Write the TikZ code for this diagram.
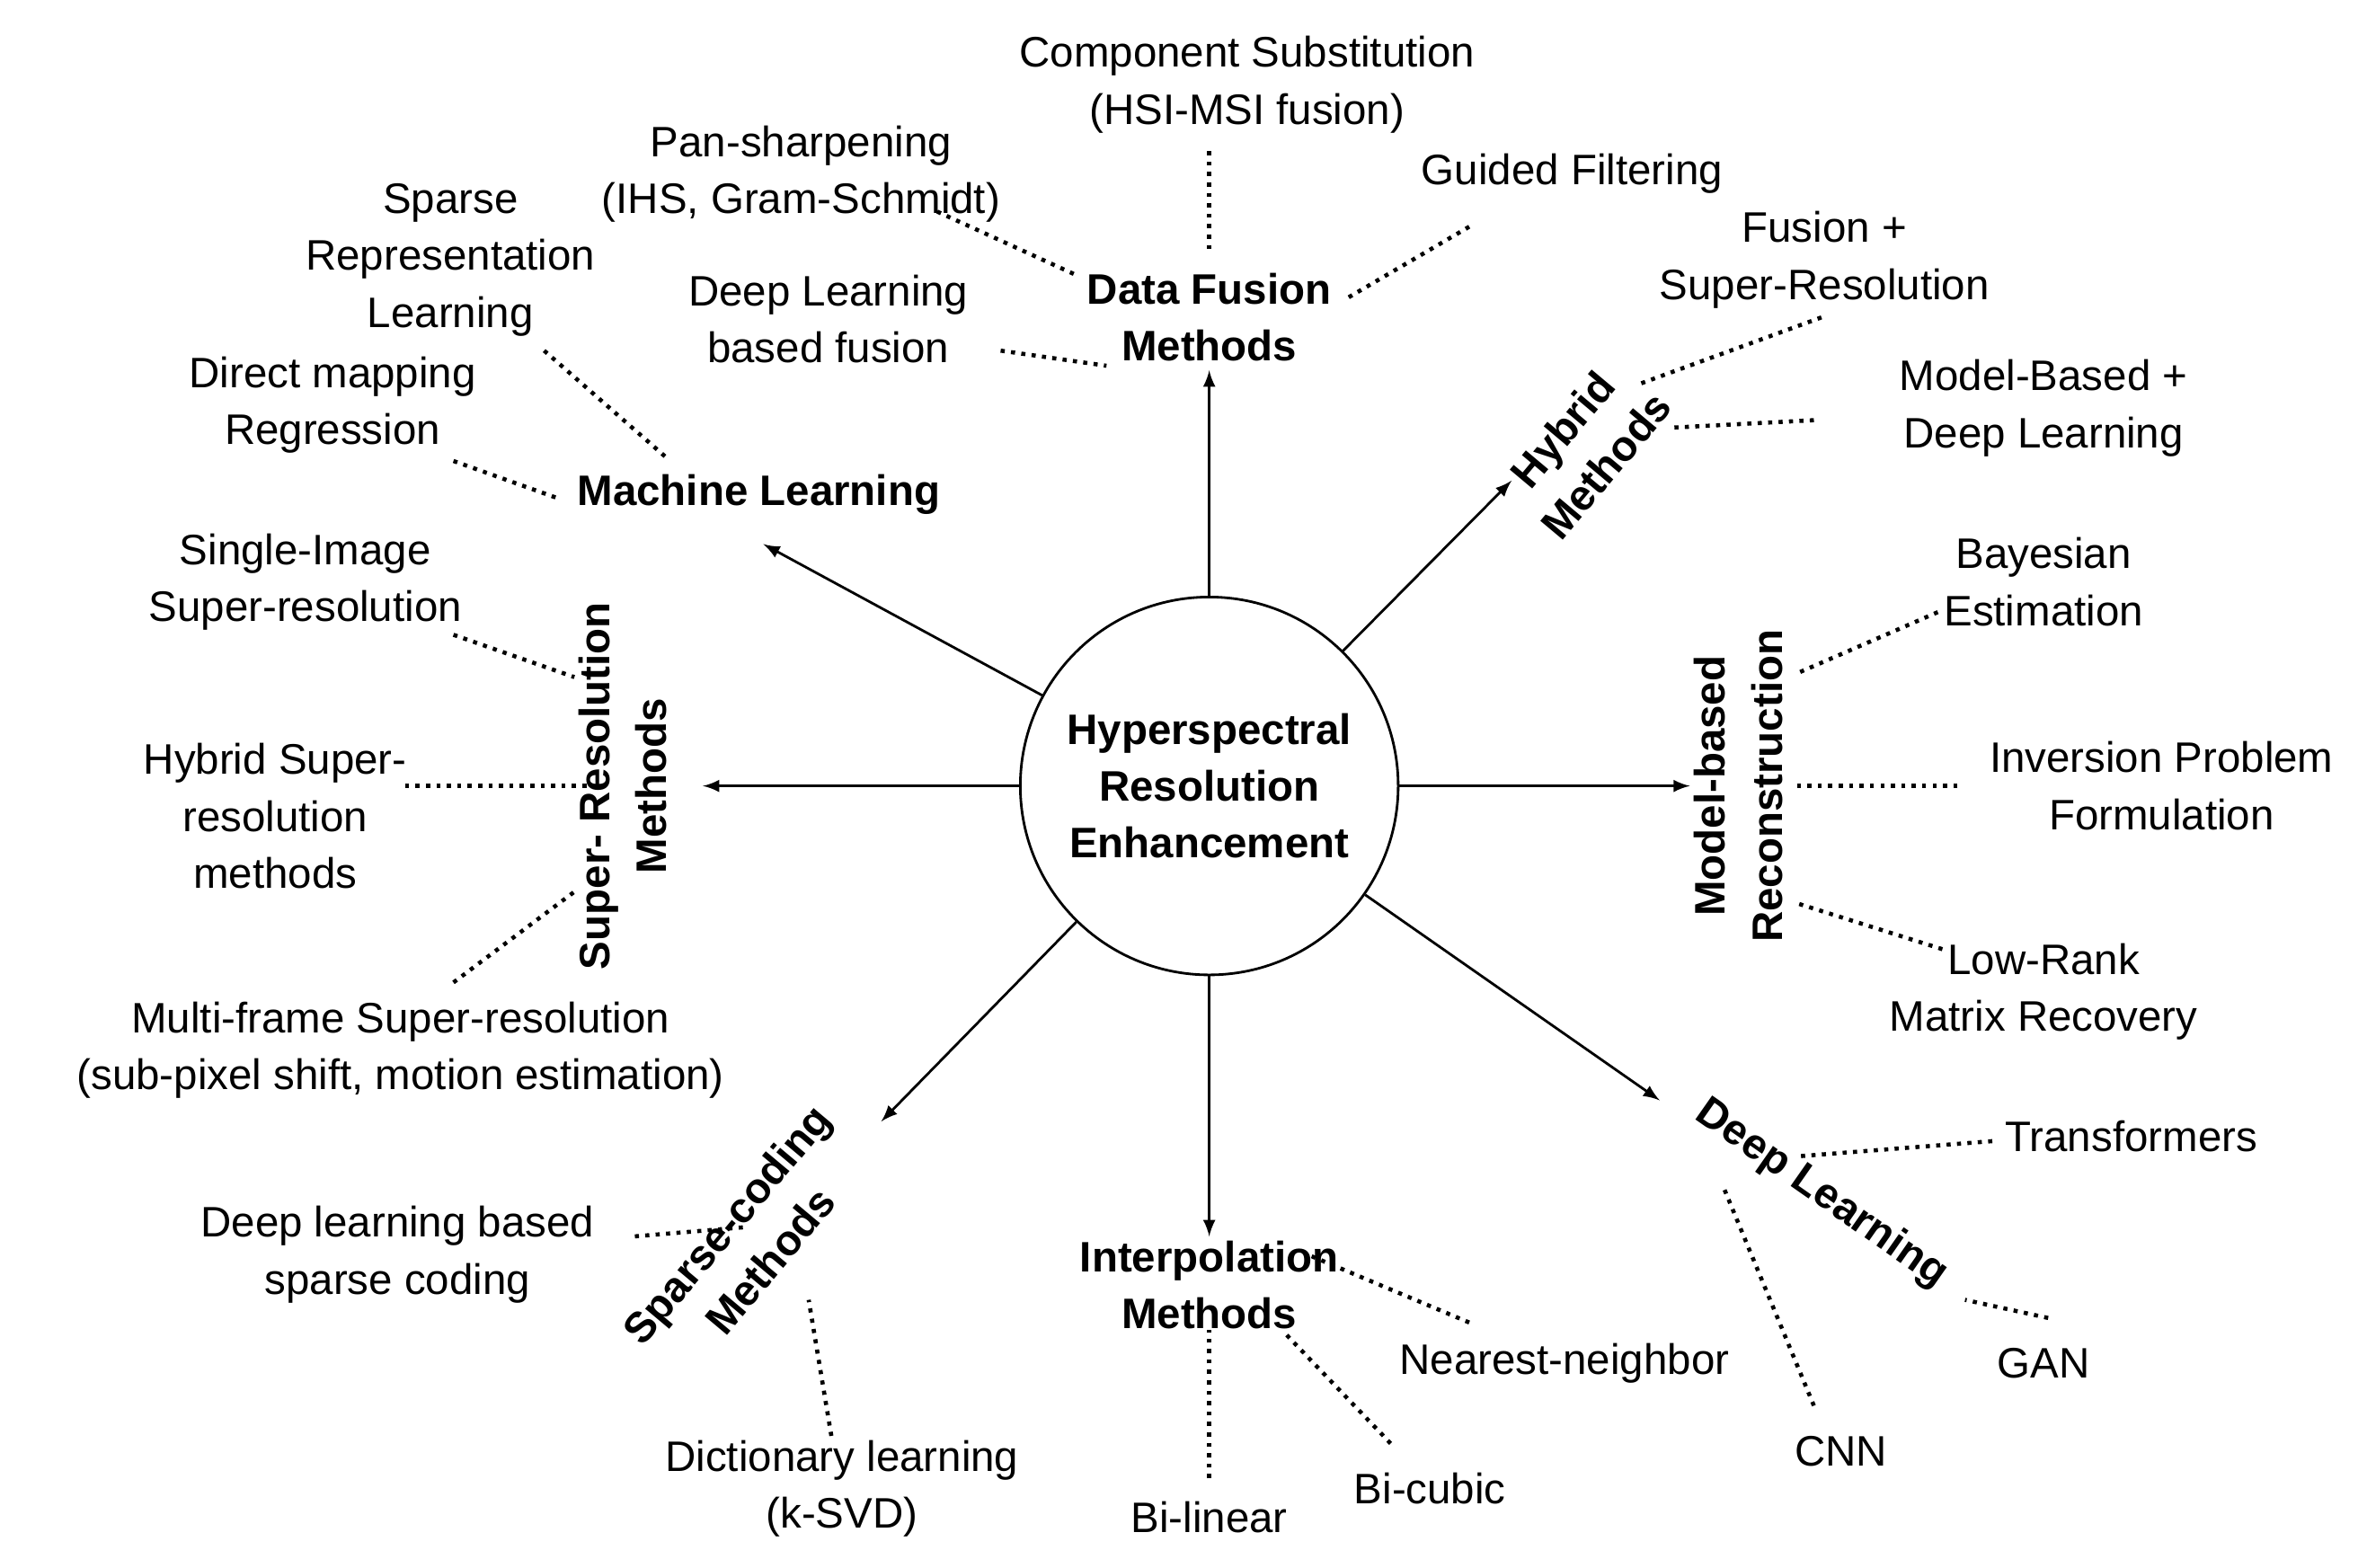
\documentclass[tikz,border=0pt]{standalone}
\usepackage{fontspec}
\setmainfont{Liberation Sans}
\begin{document}
\begin{tikzpicture}[x=0.01682cm,y=-0.01682cm,
  every node/.style={font=\fontsize{13.5}{18}\selectfont,align=center,inner sep=1pt},
  cat/.style={font=\fontsize{13.5}{18}\selectfont\bfseries,align=center,inner sep=1pt},
  arr/.style={-latex,line width=0.8pt},
  dots/.style={dotted,line width=1.3pt}]
\useasboundingbox (0,0) rectangle (1560,1037.4);
\node[circle,draw,line width=0.8pt,minimum size=250*0.01682cm,font=\fontsize{13.5}{18}\selectfont\bfseries] (c) at (800,520) {Hyperspectral\\Resolution\\Enhancement};
% arrow ends
\coordinate (aDF) at (800,245); \coordinate (aML) at (505,360);
\coordinate (aHy) at (1000,318); \coordinate (aMB) at (1118,520);
\coordinate (aDL) at (1098,728); \coordinate (aIn) at (800,818);
\coordinate (aSC) at (583,742); \coordinate (aSR) at (465,520);
\foreach \t in {aDF,aML,aHy,aMB,aDL,aIn,aSC,aSR} \draw[arr] (c) -- (\t);
% dotted connectors
\draw[dots] (800,100) -- (800,165);
\draw[dots] (620,140) -- (712,182);
\draw[dots] (972,150) -- (890,198);
\draw[dots] (662,232) -- (732,242);
\draw[dots] (1205,210) -- (1082,255);
\draw[dots] (1200,278) -- (1105,283);
\draw[dots] (1282,405) -- (1190,445);
\draw[dots] (1295,520) -- (1185,520);
\draw[dots] (1285,628) -- (1190,598);
\draw[dots] (1318,755) -- (1190,765);
\draw[dots] (1355,872) -- (1300,860);
\draw[dots] (1200,930) -- (1140,785);
\draw[dots] (972,875) -- (865,830);
\draw[dots] (920,955) -- (850,882);
\draw[dots] (800,978) -- (800,880);
\draw[dots] (420,818) -- (492,812);
\draw[dots] (550,950) -- (535,860);
\draw[dots] (300,420) -- (380,448);
\draw[dots] (268,520) -- (392,520);
\draw[dots] (300,650) -- (380,590);
\draw[dots] (360,232) -- (440,302);
\draw[dots] (300,305) -- (370,330);
% categories
\node[cat] (DF) at (800,210) {Data Fusion\\Methods};
\node[cat] (ML) at (502,327) {Machine Learning};
\node[cat,rotate=50] (Hy) at (1048,296) {Hybrid\\Methods};
\node[cat,rotate=90] (MB) at (1150,520) {Model-based\\Reconstruction};
\node[cat,rotate=90] (SR) at (412,520) {Super- Resolution\\Methods};
\node[cat,rotate=-35] (DL) at (1205,790) {Deep Learning};
\node[cat] (In) at (800,850) {Interpolation\\Methods};
\node[cat,rotate=50] (SC) at (495,822) {Sparse-coding\\Methods};
% leaves
\node (l1) at (825,56) {Component Substitution\\(HSI-MSI fusion)};
\node (l2) at (530,115) {Pan-sharpening\\(IHS, Gram-Schmidt)};
\node (l3) at (1040,115) {Guided Filtering};
\node (l4) at (548,211) {Deep Learning\\based fusion};
\node (l5) at (1207,172) {Fusion +\\Super-Resolution};
\node (l6) at (1352,270) {Model-Based +\\Deep Learning};
\node (l7) at (1352,385) {Bayesian\\Estimation};
\node (l8) at (1430,520) {Inversion Problem\\Formulation};
\node (l9) at (1352,656) {Low-Rank\\Matrix Recovery};
\node (l10) at (1410,752) {Transformers};
\node (l11) at (1352,902) {GAN};
\node (l12) at (1218,960) {CNN};
\node (l13) at (1035,902) {Nearest-neighbor};
\node (l14) at (946,985) {Bi-cubic};
\node (l15) at (800,1004) {Bi-linear};
\node (l16) at (263,830) {Deep learning based\\sparse coding};
\node (l17) at (557,985) {Dictionary learning\\(k-SVD)};
\node (l18) at (202,385) {Single-Image\\Super-resolution};
\node (l19) at (182,540) {Hybrid Super-\\resolution\\methods};
\node (l20) at (265,695) {Multi-frame Super-resolution\\(sub-pixel shift, motion estimation)};
\node (l21) at (298,172) {Sparse\\Representation\\Learning};
\node (l22) at (220,268) {Direct mapping\\Regression};
\end{tikzpicture}
\end{document}
